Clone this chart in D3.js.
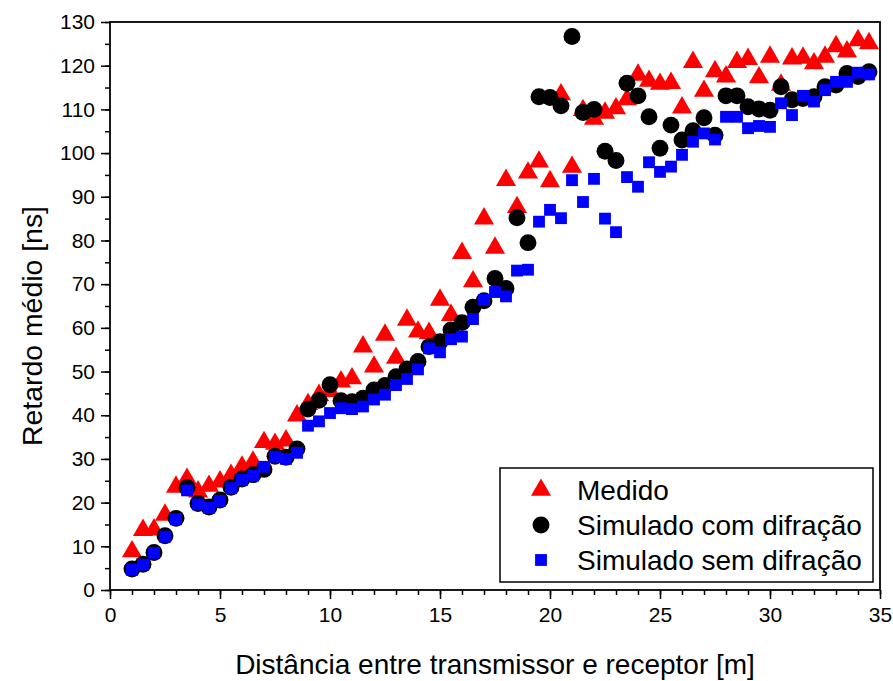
<!DOCTYPE html>
<html>
<head>
  <meta charset="utf-8">
  <script src="https://d3js.org/d3.v7.min.js"></script>
  <style>
    body {
      margin: 0;
      background-color: #fff;
    }
    text {
      font-family: Arial, "Liberation Sans", sans-serif;
      fill: #000;
    }
    .axis .domain { display: none; }
    .axis .tick line { stroke: #000; stroke-width: 1.5px; }
    .axis text { font-size: 21px; }
    .title { font-size: 28px; }
    .legend text { font-size: 28px; }
  </style>
</head>
<body>
  <svg width="893" height="681"></svg>

  <script>
    // distance between transmitter and receiver (m)
    var distancias = [
      1, 1.5, 2, 2.5, 3, 3.5, 4, 4.5, 5, 5.5, 6, 6.5, 7, 7.5, 8, 8.5, 9, 9.5, 10, 10.5,
      11, 11.5, 12, 12.5, 13, 13.5, 14, 14.5, 15, 15.5, 16, 16.5, 17, 17.5, 18, 18.5,
      19, 19.5, 20, 20.5, 21, 21.5, 22, 22.5, 23, 23.5, 24, 24.5, 25, 25.5, 26, 26.5,
      27, 27.5, 28, 28.5, 29, 29.5, 30, 30.5, 31, 31.5, 32, 32.5, 33, 33.5, 34, 34.5
    ];

    var medido = [
      8.8, 13.7, 13.8, 17.2, 23.6, 25.4, 22.5, 23.8, 24.8, 26.3, 28.2, 29.3, 33.8, 33.4, 34.2, 39.9, 42.5, 44.6, 45.5, 47.7,
      48.4, 55.7, 51.1, 58.4, 53.1, 61.8, 59.1, 58.8, 66.4, 62.9, 77.1, 70.6, 85.0, 78.3, 93.8, 87.6,
      95.5, 98.0, 93.5, 113.4, 96.8, 109.8, 107.8, 109.2, 110.2, 112.3, 117.9, 116.5, 115.8, 116.0, 110.4, 120.8,
      114.2, 118.7, 117.5, 120.8, 121.5, 117.3, 122.0, 115.6, 121.6, 121.8, 120.5, 122.0, 124.4, 123.2, 125.8, 125.1
    ];

    var comDifracao = [
      4.8, 5.9, 8.6, 12.4, 16.4, 23.4, 19.8, 19.0, 20.6, 23.5, 25.4, 26.4, 27.6, 30.6, 30.4, 32.3, 41.4, 43.4, 47.0, 43.3,
      43.1, 43.9, 45.8, 46.8, 48.8, 50.6, 52.3, 55.7, 56.8, 59.5, 61.2, 64.7, 66.2, 71.3, 69.0, 85.2,
      79.5, 112.9, 112.7, 110.8, 126.7, 109.3, 110.0, 100.4, 98.3, 116.0, 113.1, 108.3, 101.1, 106.4, 103.0, 105.1,
      108.1, 104.1, 113.1, 113.1, 110.6, 110.1, 109.8, 115.2, 112.2, 112.5, 112.9, 115.2, 115.6, 118.2, 117.5, 118.6
    ];

    var semDifracao = [
      4.6, 5.8, 8.5, 12.2, 16.2, 22.8, 19.6, 18.8, 20.4, 23.3, 25.2, 26.2, 28.2, 30.5, 30.0, 31.4, 37.6, 38.6, 40.5, 41.6,
      41.4, 42.0, 43.6, 44.7, 46.9, 48.3, 50.5, 55.3, 54.4, 57.4, 58.0, 62.0, 66.4, 68.2, 67.2, 73.1,
      73.3, 84.3, 87.0, 85.1, 93.8, 88.8, 94.1, 85.0, 81.9, 94.5, 92.3, 97.9, 95.7, 96.9, 99.6, 102.6,
      104.5, 103.1, 108.3, 108.3, 105.7, 106.2, 106.0, 111.4, 108.7, 113.1, 111.8, 114.4, 116.3, 116.3, 118.4, 118.0
    ];

    var xTicks = [0, 5, 10, 15, 20, 25, 30, 35];
    var yTicks = [0, 10, 20, 30, 40, 50, 60, 70, 80, 90, 100, 110, 120, 130];

    var series = [
      {nome: "Medido", valores: medido, cor: "#ff0000", simbolo: d3.symbolTriangle, tamanho: 175},
      {nome: "Simulado com difração", valores: comDifracao, cor: "#000000", simbolo: d3.symbolCircle, tamanho: 225},
      {nome: "Simulado sem difração", valores: semDifracao, cor: "#0000ff", simbolo: d3.symbolSquare, tamanho: 140}
    ];

    var svg = d3.select("svg"),
        margin = {top: 22, right: 13, bottom: 91, left: 110},
        width = +svg.attr("width") - margin.left - margin.right,
        height = +svg.attr("height") - margin.top - margin.bottom,
        g = svg.append("g").attr("transform", "translate(" + margin.left + "," + margin.top + ")");

    var x = d3.scaleLinear().domain([0, 35]).range([0, width]);
    var y = d3.scaleLinear().domain([0, 130]).range([height, 0]);

    // minor ticks
    g.append("g")
        .attr("class", "axis")
        .attr("transform", "translate(0," + height + ")")
        .call(d3.axisBottom(x).tickValues(d3.range(0, 36, 1)).tickSize(5).tickFormat(""));
    g.append("g")
        .attr("class", "axis")
        .call(d3.axisLeft(y).tickValues(d3.range(0, 131, 5)).tickSize(5).tickFormat(""));

    // major ticks
    g.append("g")
        .attr("class", "axis")
        .attr("transform", "translate(0," + height + ")")
        .call(d3.axisBottom(x).tickValues(xTicks).tickSize(9).tickPadding(8));
    g.append("g")
        .attr("class", "axis")
        .call(d3.axisLeft(y).tickValues(yTicks).tickSize(9).tickPadding(6));

    // points
    series.forEach(function(s) {
      g.append("g").selectAll("path")
          .data(distancias)
        .enter().append("path")
          .attr("transform", function(d, i) { return "translate(" + x(d) + "," + y(s.valores[i]) + ")"; })
          .attr("d", d3.symbol().type(s.simbolo).size(s.tamanho))
          .attr("fill", s.cor);
    });

    // frame
    g.append("rect")
        .attr("width", width)
        .attr("height", height)
        .attr("fill", "none")
        .attr("stroke", "#000")
        .attr("stroke-width", 1.8);

    // legend
    var legend = g.append("g")
        .attr("class", "legend")
        .attr("transform", "translate(" + (width - 380) + "," + (height - 122) + ")");
    legend.append("rect")
        .attr("width", 373)
        .attr("height", 114)
        .attr("fill", "#fff")
        .attr("stroke", "#000")
        .attr("stroke-width", 1.5);
    series.forEach(function(s, i) {
      var ly = 22 + i * 35;
      legend.append("path")
          .attr("transform", "translate(41," + ly + ")")
          .attr("d", d3.symbol().type(s.simbolo).size(s.tamanho))
          .attr("fill", s.cor);
      legend.append("text")
          .attr("x", 77)
          .attr("y", ly + 10)
          .text(s.nome);
    });

    // axis titles
    svg.append("text")
        .attr("class", "title")
        .attr("x", margin.left + width / 2)
        .attr("y", 674)
        .attr("text-anchor", "middle")
        .text("Distância entre transmissor e receptor [m]");
    svg.append("text")
        .attr("class", "title")
        .attr("transform", "rotate(-90)")
        .attr("x", -326)
        .attr("y", 42)
        .attr("text-anchor", "middle")
        .attr("textLength", 240)
        .attr("lengthAdjust", "spacingAndGlyphs")
        .text("Retardo médio [ns]");
  </script>
</body>
</html>
